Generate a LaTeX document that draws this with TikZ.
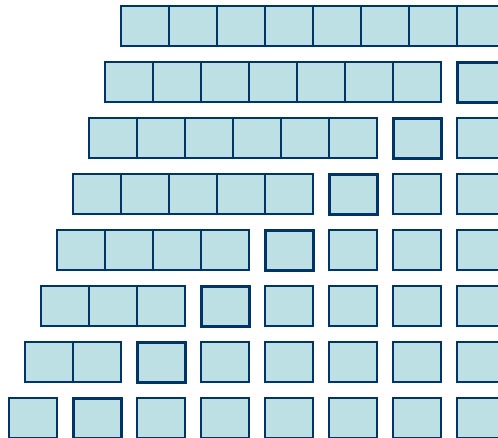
\documentclass[tikz,border=0pt]{standalone}
\definecolor{cellfill}{RGB}{188,224,228}
\definecolor{celldraw}{RGB}{0,51,102}
\tikzset{
  cell/.style={rectangle, draw=celldraw, fill=cellfill, line width=1.8pt,
    minimum width=48pt, minimum height=40pt, inner sep=0pt, anchor=north west},
  hcell/.style={cell, line width=3.2pt}
}
\begin{document}
\begin{tikzpicture}[x=1pt,y=-1pt]
\useasboundingbox (0,0) rectangle (498,438);
\clip (0,0) rectangle (498,438);
\foreach \i in {0,...,7}{
  \pgfmathtruncatemacro{\nj}{7-\i}
  \foreach \j in {0,...,\nj}{
    \node[cell] (a\i-\j) at ({120-16*\i+48*\j},{5+56*\i}) {};
  }
  \ifnum\i>0
    \pgfmathtruncatemacro{\nk}{\i-1}
    \foreach \k in {0,...,\nk}{
      \ifnum\k=\nk
        \node[hcell] (b\i-\k) at ({456-64*\k},{5+56*\i}) {};
      \else
        \node[cell] (b\i-\k) at ({456-64*\k},{5+56*\i}) {};
      \fi
    }
  \fi
}
\end{tikzpicture}
\end{document}
